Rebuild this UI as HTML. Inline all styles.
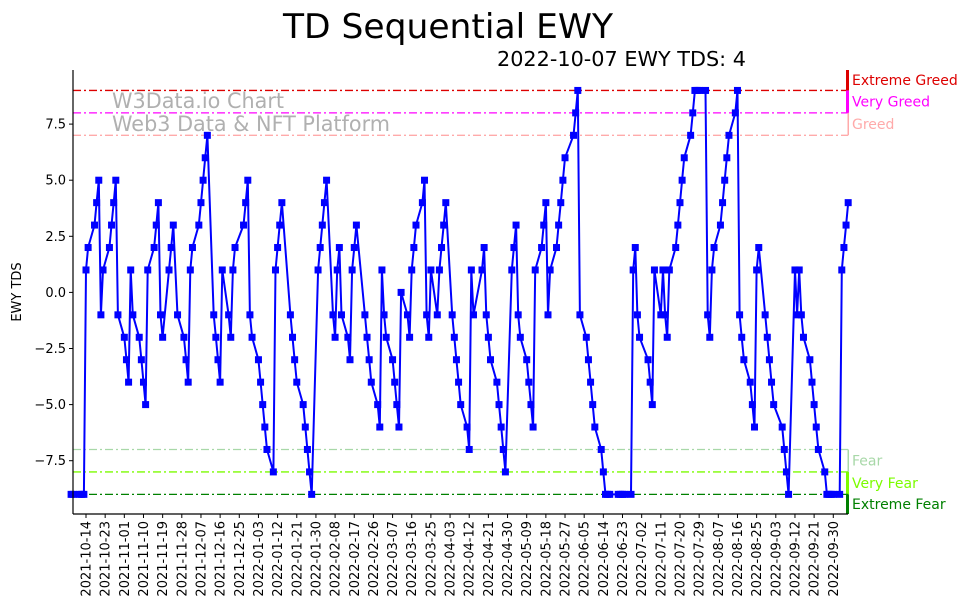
<!DOCTYPE html>
<html><head><meta charset="utf-8"><style>
html,body{margin:0;padding:0;background:#fff;}
svg{display:block;font-family:"DejaVu Sans","Liberation Sans",sans-serif;}
</style></head><body>
<svg id="chart" width="967" height="614" viewBox="0 0 967 614" xmlns="http://www.w3.org/2000/svg">
<text x="448" y="38" font-size="34" text-anchor="middle" textLength="330" lengthAdjust="spacingAndGlyphs">TD Sequential EWY</text>
<text x="746" y="66" font-size="20" text-anchor="end" textLength="249" lengthAdjust="spacingAndGlyphs">2022-10-07 EWY TDS: 4</text>
<text transform="translate(21,292) rotate(-90)" font-size="13" text-anchor="middle">EWY TDS</text>
<g id="zones"></g>
<text x="112" y="108" font-size="21" fill="#b0b0b0" textLength="172" lengthAdjust="spacingAndGlyphs">W3Data.io Chart</text>
<text x="112" y="131" font-size="21" fill="#b0b0b0" textLength="278" lengthAdjust="spacingAndGlyphs">Web3 Data &amp; NFT Platform</text>
<g id="series"></g>
<g id="axes"></g>
</svg>
<script>
const startDate = "2021-10-07";
const endDate = "2022-10-07";
const holidays = ["2021-11-25","2021-12-24","2022-01-17","2022-02-21","2022-04-15","2022-05-30","2022-06-20","2022-07-04","2022-09-05"];
const tdsValues = [
-9,-9,-9,-9,-9,1,2,3,4,5,-1,1,2,3,4,5,-1,
-2,-3,-4,1,-1,-2,-3,-4,-5,1,2,3,4,-1,-2,1,2,3,-1,-2,-3,
-4,1,2,3,4,5,6,7,-1,-2,-3,-4,1,-1,-2,1,2,3,4,5,-1,-2,
-3,-4,-5,-6,-7,-8,1,2,3,4,-1,-2,-3,-4,-5,-6,-7,-8,-9,1,
2,3,4,5,-1,-2,1,2,-1,-2,-3,1,2,3,-1,-2,-3,-4,-5,
-6,1,-1,-2,-3,-4,-5,-6,0,-1,-2,1,2,3,4,5,-1,-2,1,-1,1,2,3,
4,-1,-2,-3,-4,-5,-6,-7,1,-1,1,2,-1,-2,-3,-4,-5,-6,-7,-8,
1,2,3,-1,-2,-3,-4,-5,-6,1,2,3,4,-1,1,2,3,4,5,6,7,
8,9,-1,-2,-3,-4,-5,-6,-7,-8,-9,-9,-9,-9,-9,-9,-9,-9,1,2,-1,
-2,-3,-4,-5,1,-1,1,-1,-2,1,2,3,4,5,6,7,8,9,9,9,
9,-1,-2,1,2,3,4,5,6,7,8,9,-1,-2,-3,-4,-5,-6,1,2,-1,-2,-3,
-4,-5,-6,-7,-8,-9,1,-1,1,-1,-2,-3,-4,-5,-6,-7,-8,-9,-9,-9,-9,
-9,1,2,3,4];
const yTickValues = [-7.5,-5,-2.5,0,2.5,5,7.5];
const yTickLabels = ["\u22127.5","\u22125.0","\u22122.5","0.0","2.5","5.0","7.5"];
const xTickStart = "2021-10-14";
const xTickStepDays = 9;
const xTickCount = 40;
const zoneLevels = [9,8,7,-7,-8,-9];
const zoneNames = ["Extreme Greed","Very Greed","Greed","Fear","Very Fear","Extreme Fear"];
const zoneColors = ["#dd0000","#ff00ff","#ffaaaa","#a8d8a8","#7cfc00","#008000"];

const NS="http://www.w3.org/2000/svg";
const DAY=86400000;
function parse(s){const p=s.split("-");return Date.UTC(+p[0],+p[1]-1,+p[2]);}
function fmt(t){return new Date(t).toISOString().slice(0,10);}
const t0=parse(xTickStart);
const PLOT_L=73, PLOT_R=848, PLOT_T=70, PLOT_B=514;
function xScale(t){return 86+(t-t0)/DAY*2.129;}
function yScale(v){return 292.4-v*22.44;}
function el(tag,attrs,parent){const e=document.createElementNS(NS,tag);for(const k in attrs)e.setAttribute(k,attrs[k]);parent.appendChild(e);return e;}

const dates=[];
for(let t=parse(startDate);t<=parse(endDate);t+=DAY){const d=new Date(t).getUTCDay();if(d===0||d===6)continue;if(holidays.indexOf(fmt(t))>=0)continue;dates.push(t);}

const zg=document.getElementById("zones");
zoneLevels.forEach(function(lv,i){
  const ln=el("line",{x1:PLOT_L,x2:PLOT_R,y1:yScale(lv),y2:yScale(lv),stroke:zoneColors[i],"stroke-width":1.3,"stroke-dasharray":"8,3,2,3"},zg);
  
  
  let y1,y2;
  if(lv>0){y1=(lv===9)?PLOT_T:yScale(lv+1);y2=yScale(lv);}else{y1=yScale(lv);y2=(lv===-9)?PLOT_B:yScale(lv-1);}
  const w=(Math.abs(lv)===7)?1.5:3;
  const bar=el("line",{x1:PLOT_R-w/2+1,x2:PLOT_R-w/2+1,y1:y1,y2:y2,stroke:zoneColors[i],"stroke-width":w},zg);
  
  
  const tx=el("text",{x:852,y:(y1+y2)/2+5,"font-size":14,fill:zoneColors[i]},zg);
  tx.textContent=zoneNames[i];
  
  
});

const sg=document.getElementById("series");
const n=Math.min(dates.length,tdsValues.length);
let pts=[];
for(let i=0;i<n;i++)pts.push(xScale(dates[i]).toFixed(1)+","+yScale(tdsValues[i]).toFixed(1));
const pl=el("polyline",{points:pts.join(" "),fill:"none",stroke:"#0000ff","stroke-width":2,"stroke-linejoin":"round"},sg);


for(let i=0;i<n;i++){
  const r=el("rect",{x:xScale(dates[i])-3.5,y:yScale(tdsValues[i])-3.5,width:7,height:7,fill:"#0000ff"},sg);
  
  
}

const ag=document.getElementById("axes");
const ls=el("line",{x1:PLOT_L,x2:PLOT_L,y1:PLOT_T,y2:PLOT_B,stroke:"#000","stroke-width":1.2},ag);


const bs=el("line",{x1:PLOT_L,x2:PLOT_R,y1:PLOT_B,y2:PLOT_B,stroke:"#000","stroke-width":1.2},ag);


yTickValues.forEach(function(v,i){
  const y=yScale(v);
  const tk=el("line",{x1:PLOT_L-4,x2:PLOT_L,y1:y,y2:y,stroke:"#000","stroke-width":1},ag);
  
  
  const tx=el("text",{x:PLOT_L-7,y:y+4.5,"font-size":13,"text-anchor":"end"},ag);
  tx.textContent=yTickLabels[i];
  
  
});
for(let k=0;k<xTickCount;k++){
  const t=t0+k*xTickStepDays*DAY;
  const x=xScale(t);
  const tk=el("line",{x1:x,x2:x,y1:PLOT_B,y2:PLOT_B+4,stroke:"#000","stroke-width":1},ag);
  
  
  const tx=el("text",{transform:"translate("+(x+4.5)+","+(PLOT_B+7)+") rotate(-90)","font-size":13,"text-anchor":"end"},ag);
  tx.textContent=fmt(t);
  
  
}
</script>
</body></html>
